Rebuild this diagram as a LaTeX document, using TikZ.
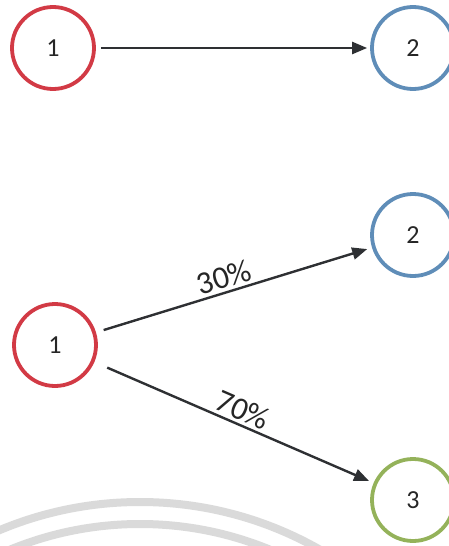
\documentclass[tikz,border=0pt]{standalone}
\usepackage{fontspec}
\setmainfont{Carlito}
\usetikzlibrary{arrows.meta}
\definecolor{cred}{HTML}{D23A45}
\definecolor{cblue}{HTML}{5F8DB8}
\definecolor{cgreen}{HTML}{94B25A}
\definecolor{carrow}{HTML}{2E3033}
\definecolor{cwater}{HTML}{DADADA}
\begin{document}
\begin{tikzpicture}[x=1pt,y=-1pt,
  state/.style={circle,draw=#1,line width=3.8pt,minimum size=82pt,inner sep=0pt,font=\fontsize{26}{26}\selectfont,text=black!85},
  flow/.style={draw=carrow,line width=2.4pt,-{Triangle[length=15pt,width=12pt]}},
  pct/.style={sloped,above,inner sep=3pt,font=\fontsize{32}{32}\selectfont,text=black!85}]
\useasboundingbox (0,0) rectangle (449,546);
\begin{scope}
\clip (0,0) rectangle (449,546);
\draw[cwater,line width=8pt] (140,865) circle (363);
\draw[cwater,line width=8pt] (140,865) circle (341);
\end{scope}
% top
\node[state=cred] (a1) at (53,48) {1};
\node[state=cblue] (a2) at (413,48) {2};
\draw[flow,shorten <=5pt,shorten >=3pt] (a1) -- (a2);
% bottom
\node[state=cred] (b1) at (55,345) {1};
\node[state=cblue] (b2) at (413,235) {2};
\node[state=cgreen] (b3) at (413,500) {3};
\draw[flow,shorten <=8pt,shorten >=5pt] (b1) -- node[pct,pos=0.48] {30\%} (b2);
\draw[flow,shorten <=14pt,shorten >=5pt] (b1) -- node[pct,pos=0.51] {70\%} (b3);
\end{tikzpicture}
\end{document}
